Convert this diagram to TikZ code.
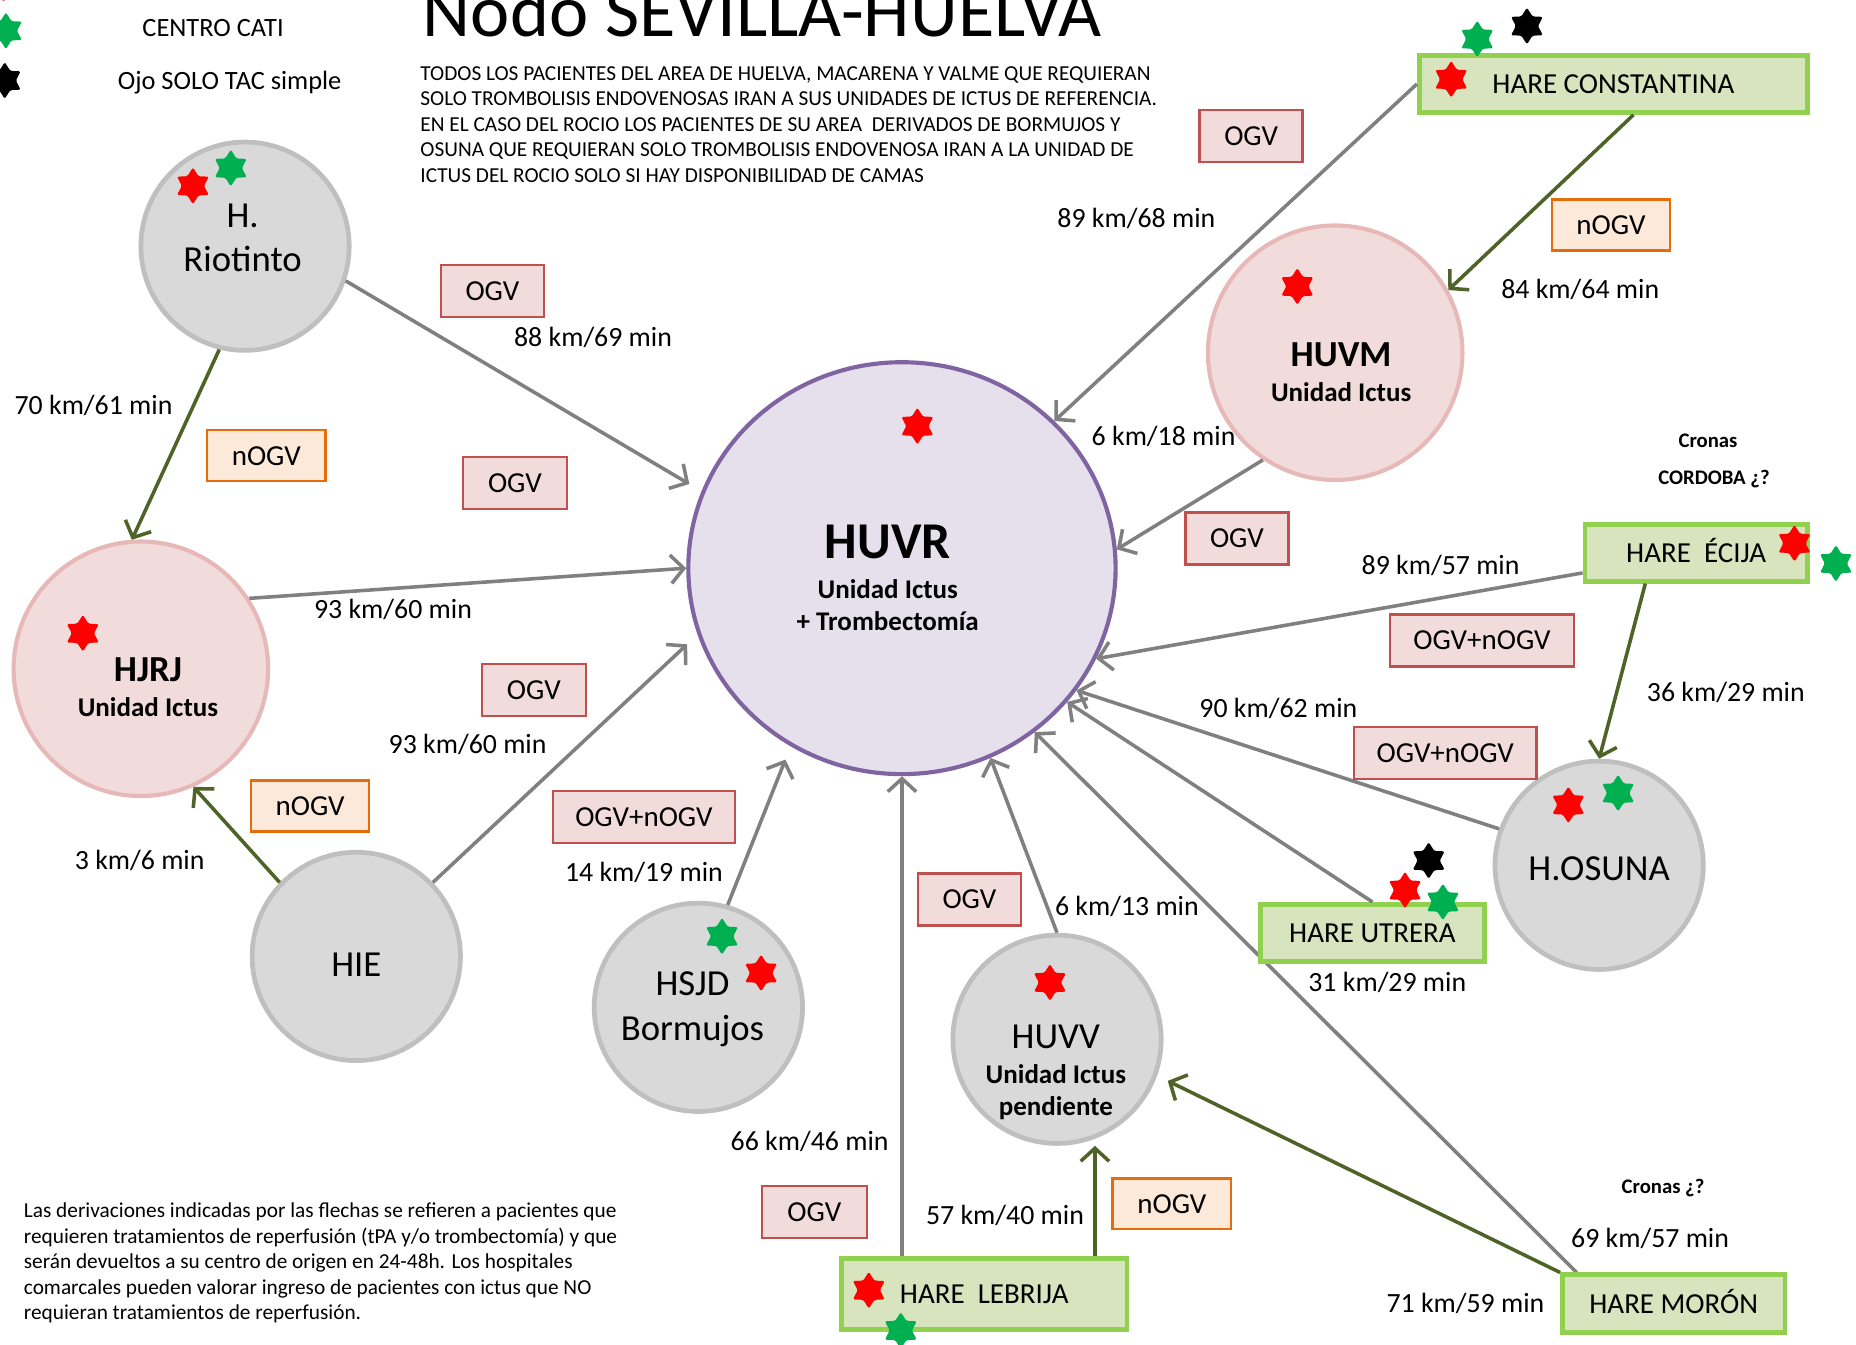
\documentclass[tikz,border=0pt]{standalone}
\usepackage{fontspec}
\setmainfont{Carlito}
\usetikzlibrary{shapes.geometric,arrows.meta,backgrounds,calc}
\definecolor{cgray}{HTML}{D9D9D9}
\definecolor{cgrayb}{HTML}{BFBFBF}
\definecolor{cpink}{HTML}{F2DCDB}
\definecolor{cpinkb}{HTML}{E6B9B8}
\definecolor{clav}{HTML}{E5E0EC}
\definecolor{cpurp}{HTML}{8064A2}
\definecolor{cgfill}{HTML}{D7E4BD}
\definecolor{cgbord}{HTML}{92D050}
\definecolor{cogvb}{HTML}{C0504D}
\definecolor{cnfill}{HTML}{FDE9D9}
\definecolor{cnbord}{HTML}{E46C0A}
\definecolor{carrg}{HTML}{808080}
\definecolor{carro}{HTML}{4F6228}
\definecolor{cstg}{HTML}{00B050}
\definecolor{cstr}{HTML}{FF0000}
\newcommand\fsz[2]{\fontsize{#1}{#2}\selectfont}
\tikzset{
 hosp/.style={circle, draw=cgrayb, fill=cgray, line width=4pt, minimum size=176pt, inner sep=0pt},
 uic/.style={circle, draw=cpinkb, fill=cpink, line width=3.5pt, minimum size=215pt, inner sep=0pt},
 hare/.style={rectangle, draw=cgbord, fill=cgfill, line width=4pt, inner sep=0pt, font=\fsz{24.5}{29}, text height=15.8pt, text depth=0pt},
 ogv/.style={rectangle, draw=cogvb, fill=cpink, line width=2pt, minimum height=44pt, inner sep=0pt, font=\fsz{24.5}{29}, text height=15.8pt, text depth=0pt},
 nogv/.style={rectangle, draw=cnbord, fill=cnfill, line width=2pt, minimum width=100pt, minimum height=43pt, inner sep=0pt, font=\fsz{24.5}{29}, text height=15.8pt, text depth=0pt},
 dist/.style={font=\fsz{23.5}{28}, inner sep=0pt, text height=15.1pt, text depth=0pt},
 ctext/.style={font=\fsz{31}{37}, inner sep=0pt, text height=20pt, text depth=0pt},
 cbold/.style={font=\fsz{31}{37}\bfseries, inner sep=0pt, text height=20pt, text depth=0pt},
 btext/.style={font=\fsz{22.8}{27}\bfseries, inner sep=0pt, text height=14.7pt, text depth=0pt},
 small/.style={font=\fsz{17.5}{21}\bfseries, inner sep=0pt, text height=11.3pt, text depth=0pt},
 legtext/.style={font=\fsz{22.3}{27}, inner sep=0pt, text height=14.4pt, text depth=0pt},
 star6/.style={star, star points=6, star point ratio=1.65, minimum size=31pt, inner sep=0pt, rounded corners=1.2pt},
 garrow/.style={draw=carrg, line width=3pt, -{Straight Barb[length=11pt,width=24pt]}},
 oarrow/.style={draw=carro, line width=3pt, -{Straight Barb[length=11pt,width=24pt]}},
}
\begin{document}
\begin{tikzpicture}[x=1pt,y=-1pt]
\useasboundingbox (0,0) rectangle (1568,1136);
% hospitals
\node[hosp] (riot) at (207,208) {};
\node[uic] (hjrj) at (119,565) {};
\node[hosp] (hie) at (301,808) {};
\node[hosp] (hsjd) at (590,851) {};
\node[hosp] (huvv) at (893,878) {};
\node[uic] (huvm) at (1128,298) {};
\node[hosp] (osuna) at (1351,731) {};
\node[ellipse, draw=cpurp, fill=clav, line width=3.5pt, minimum width=361pt, minimum height=348pt, inner sep=0pt] (huvr) at (762,480) {};
% HARE boxes
\node[hare, minimum width=328pt, minimum height=48pt] (cons) at (1363,71) {HARE CONSTANTINA};
\node[hare, minimum width=188pt, minimum height=48pt] (eci) at (1433,467) {HARE~ ÉCIJA};
\node[hare, minimum width=189pt, minimum height=48pt] (utr) at (1159.5,788) {HARE UTRERA};
\node[hare, minimum width=241pt, minimum height=60pt] (leb) at (831.5,1093) {HARE~ LEBRIJA};
\node[hare, minimum width=188pt, minimum height=49pt] (mor) at (1414,1101.5) {HARE MORÓN};
% texts in circles
\node[ctext] (riotA) at (205,182) {H.};
\node[ctext] (riotB) at (205,219) {Riotinto};
\node[cbold] (hjrjA) at (125,566) {HJRJ};
\node[btext] (hjrjB) at (125,598) {Unidad Ictus};
\node[ctext] (hieA) at (301,815) {HIE};
\node[ctext] (hsjdA) at (585,831) {HSJD};
\node[ctext] (hsjdB) at (585,869) {Bormujos};
\node[ctext] (huvvA) at (892,876) {HUVV};
\node[btext] (huvvB) at (892,908) {Unidad Ictus};
\node[btext] (huvvC) at (892,935) {pendiente};
\node[cbold] (huvmA) at (1133,300) {HUVM};
\node[btext] (huvmB) at (1133,332) {Unidad Ictus};
\node[ctext] (osunaA) at (1351,734) {H.OSUNA};
\node[font=\fsz{43.6}{50}\bfseries, inner sep=0pt, text height=28pt, text depth=0pt] (huvrA) at (750,458) {HUVR};
\node[btext] (huvrB) at (750,498) {Unidad Ictus};
\node[btext] (huvrC) at (750,525) {+ Trombectomía};
% arrows behind
\begin{pgfonlayer}{background}
\draw[garrow] ([xshift=14pt]mor.north west) -- (huvr.-51);
\end{pgfonlayer}
% gray arrows to HUVR
\draw[garrow, shorten >=12pt] (riot.-19) -- (huvr.159);
\draw[garrow] (hjrj.33) -- (huvr.180);
\draw[garrow, shorten >=12pt] (hie.44) -- (huvr.198);
\draw[garrow, shorten >=12pt] (hsjd.74) -- (huvr.238);
\draw[garrow] (huvr.south |- leb.north) -- (huvr.south);
\draw[garrow] (huvv.north) -- (huvr.-65);
\draw[garrow] (utr.north) -- (huvr.-39);
\draw[garrow] (osuna.160) -- (huvr.-35);
\draw[garrow] ([yshift=-17pt]eci.west) -- (huvr.-25);
\draw[garrow] (huvm.236) -- (huvr.5);
\draw[garrow] (cons.west) -- (huvr.44);
% olive arrows
\draw[oarrow] (riot.256) -- (hjrj.94);
\draw[oarrow] (hie.136) -- (hjrj.-66);
\draw[oarrow] ([xshift=17pt]cons.south) -- (huvm.29);
\draw[oarrow] ([xshift=-43pt]eci.south) -- (osuna.north);
\draw[oarrow] ([xshift=93.5pt]leb.north) -- ([xshift=32pt]huvv.south);
\draw[oarrow, shorten >=10pt] (mor.north west) -- (huvv.-20);
% label boxes
\node[ogv, minimum width=87pt] (o1) at (416,246) {OGV};
\node[ogv, minimum width=88pt] (o2) at (435,408) {OGV};
\node[ogv, minimum width=88pt] (o3) at (451,583) {OGV};
\node[ogv, minimum width=87pt] (o4) at (1057,115) {OGV};
\node[ogv, minimum width=87pt] (o5) at (1045,455) {OGV};
\node[ogv, minimum width=87pt] (o6) at (819,760) {OGV};
\node[ogv, minimum width=89pt] (o7) at (688,1024) {OGV};
\node[ogv, minimum width=154pt] (o8) at (544,690) {OGV+nOGV};
\node[ogv, minimum width=155pt] (o9) at (1252,541) {OGV+nOGV};
\node[ogv, minimum width=154pt] (o10) at (1221,636) {OGV+nOGV};
\node[nogv] (n1) at (225,385) {nOGV};
\node[nogv] (n2) at (1361,190) {nOGV};
\node[nogv] (n3) at (262,681) {nOGV};
\node[nogv] (n4) at (990,1017) {nOGV};
% distances
\node[dist] (d1) at (79,343) {70 km/61 min};
\node[dist] (d2) at (501,285) {88 km/69 min};
\node[dist] (d3) at (332,515) {93 km/60 min};
\node[dist] (d4) at (395,629) {93 km/60 min};
\node[dist] (d5) at (118,727) {3 km/6 min};
\node[dist] (d6) at (544,737) {14 km/19 min};
\node[dist] (d7) at (684,964) {66 km/46 min};
\node[dist] (d8) at (849,1027) {57 km/40 min};
\node[dist] (d9) at (952,766) {6 km/13 min};
\node[dist] (d10) at (960,185) {89 km/68 min};
\node[dist] (d11) at (1335,245) {84 km/64 min};
\node[dist] (d12) at (983,369) {6 km/18 min};
\node[dist] (d13) at (1217,478) {89 km/57 min};
\node[dist] (d14) at (1080,599) {90 km/62 min};
\node[dist] (d15) at (1458,585) {36 km/29 min};
\node[dist] (d16) at (1172,830) {31 km/29 min};
\node[dist] (d17) at (1394,1046) {69 km/57 min};
\node[dist] (d18) at (1238,1101) {71 km/59 min};
\node[small] (cr1) at (1443,372) {Cronas};
\node[small] (cr2) at (1448,404) {CORDOBA ¿?};
\node[small] (cr3) at (1405,1003) {Cronas ¿?};
% title, legend, notes
\node[anchor=base west, inner sep=0pt, font=\fsz{62.8}{70}] (title) at (357,31) {Nodo SEVILLA-HUELVA};
\node[legtext] (leg1) at (180,24) {CENTRO CATI};
\node[legtext] (leg2) at (194,68) {Ojo SOLO TAC simple};
\node[anchor=west, align=left, inner sep=0pt, font=\fsz{18}{21.5}] (para) at (355,105) {TODOS LOS PACIENTES DEL AREA DE HUELVA, MACARENA Y VALME QUE REQUIERAN\\SOLO TROMBOLISIS ENDOVENOSAS IRAN A SUS UNIDADES DE ICTUS DE REFERENCIA.\\EN EL CASO DEL ROCIO LOS PACIENTES DE SU AREA~ DERIVADOS DE BORMUJOS Y\\OSUNA QUE REQUIERAN SOLO TROMBOLISIS ENDOVENOSA IRAN A LA UNIDAD DE\\ICTUS DEL ROCIO SOLO SI HAY DISPONIBILIDAD DE CAMAS};
\node[anchor=west, align=left, inner sep=0pt, font=\fsz{18}{21.5}] (note) at (20,1067) {Las derivaciones indicadas por las flechas se refieren a pacientes que\\requieren tratamientos de reperfusión (tPA y/o trombectomía) y que\\serán devueltos a su centro de origen en 24-48h. Los hospitales\\comarcales pueden valorar ingreso de pacientes con ictus que NO\\requieran tratamientos de reperfusión.};
% stars
\node[star6, fill=cstr] (s1) at (3,-14) {};
\node[star6, fill=cstg] (s2) at (5,26) {};
\node[star6, fill=black] (s3) at (4,68) {};
\node[star6, fill=cstr] (s4) at (163,157) {};
\node[star6, fill=cstg] (s5) at (195,142) {};
\node[star6, fill=cstr] (s6) at (70,535) {};
\node[star6, fill=cstr] (s7) at (775,360) {};
\node[star6, fill=cstg] (s8) at (610,791) {};
\node[star6, fill=cstr] (s9) at (643,822) {};
\node[star6, fill=cstr] (s10) at (887,830) {};
\node[star6, fill=cstr] (s11) at (1096,242) {};
\node[star6, fill=cstr] (s12) at (1226,67) {};
\node[star6, fill=cstg] (s13) at (1248,33) {};
\node[star6, fill=black] (s14) at (1290,22) {};
\node[star6, fill=cstr] (s15) at (1516,459) {};
\node[star6, fill=cstg] (s16) at (1551,476) {};
\node[star6, fill=cstr] (s17) at (1325,680) {};
\node[star6, fill=cstg] (s18) at (1367,670) {};
\node[star6, fill=black] (s19) at (1207,727) {};
\node[star6, fill=cstr] (s20) at (1187,752) {};
\node[star6, fill=cstg] (s21) at (1219,762) {};
\node[star6, fill=cstr] (s22) at (734,1090) {};
\node[star6, fill=cstg] (s23) at (761,1124) {};
\end{tikzpicture}
\end{document}
